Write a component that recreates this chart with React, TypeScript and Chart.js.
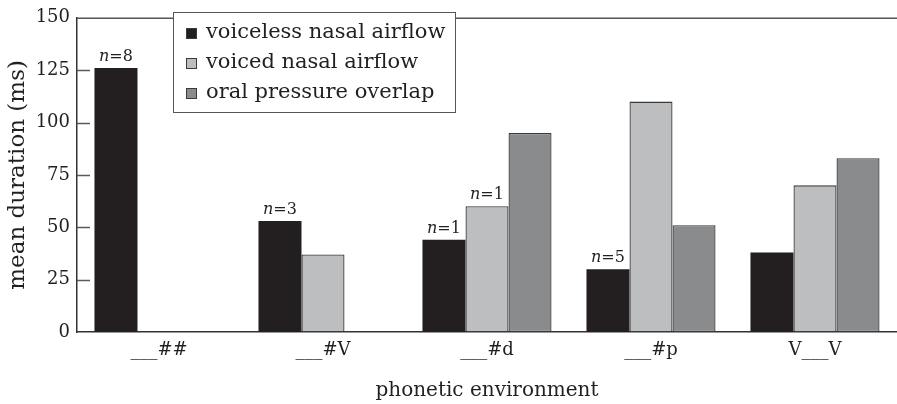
import React, { useEffect, useRef } from 'react';
import { Chart, registerables } from 'chart.js';

Chart.register(...registerables);

const categories = ['___##', '___#V', '___#d', '___#p', 'V___V'];
const seriesNames = ['voiceless nasal airflow', 'voiced nasal airflow', 'oral pressure overlap'];
const voiceless = [126, 53, 44, 30, 38];
const voiced = [null, 37, 60, 110, 70];
const oralOverlap = [null, null, 95, 51, 83];
const seriesColors = ['#231f20', '#bcbec0', '#8a8b8d'];
const seriesBorders = ['#231f20', '#3a3a3a', '#3a3a3a'];
const seriesBorderWidths = [0, 1.3, 1.3];
const yTickValues = [0, 25, 50, 75, 100, 125, 150];
// n counts written above bars: [dataset][category]
const nVoiceless = ['8', '3', '1', '5', null];
const nVoiced = [null, null, '1', null, null];
const nOral = [null, null, null, null, null];

const FONT = '"DejaVu Serif", serif';

const decorPlugin = {
  id: 'decor',
  afterDatasetsDraw(chart: any) {
    const { ctx, chartArea, scales } = chart;
    const y = scales.y;
    ctx.save();
    // inner tick marks
    ctx.strokeStyle = '#5a5a5a';
    ctx.lineWidth = 1.5;
    yTickValues.forEach((v) => {
      if (v === 0 || v === 150) return;
      const py = Math.round(y.getPixelForValue(v)) + 0.5;
      ctx.beginPath();
      ctx.moveTo(chartArea.left, py);
      ctx.lineTo(chartArea.left + 13, py);
      ctx.stroke();
    });
    // top border line
    ctx.strokeStyle = '#555555';
    ctx.lineWidth = 1.5;
    ctx.beginPath();
    ctx.moveTo(chartArea.left, chartArea.top + 0.5);
    ctx.lineTo(chart.width, chartArea.top + 0.5);
    ctx.stroke();

    // n annotations
    const nSets = [nVoiceless, nVoiced, nOral];
    nSets.forEach((arr, d) => {
      const meta = chart.getDatasetMeta(d);
      arr.forEach((lab, i) => {
        if (!lab) return;
        const el = meta.data[i];
        if (!el) return;
        const italic = 'italic 16px ' + FONT;
        const normal = '16px ' + FONT;
        ctx.font = italic;
        const w1 = ctx.measureText('n').width;
        ctx.font = normal;
        const rest = '=' + lab;
        const w2 = ctx.measureText(rest).width;
        const x0 = el.x - (w1 + w2) / 2;
        const by = el.y - 7;
        ctx.fillStyle = '#231f20';
        ctx.textBaseline = 'alphabetic';
        ctx.textAlign = 'left';
        ctx.font = italic;
        ctx.fillText('n', x0, by);
        ctx.font = normal;
        ctx.fillText(rest, x0 + w1, by);
      });
    });

    // legend box
    const lx = 173.5, ly = 12.5, lw = 282, lh = 100;
    ctx.fillStyle = '#ffffff';
    ctx.fillRect(lx, ly, lw, lh);
    ctx.strokeStyle = '#555555';
    ctx.lineWidth = 1;
    ctx.strokeRect(lx, ly, lw, lh);
    chart.data.datasets.forEach((ds: any, i: number) => {
      const cy = 33 + i * 30;
      ctx.fillStyle = ds.backgroundColor;
      ctx.fillRect(186, cy - 5, 11, 11);
      ctx.strokeStyle = '#3a3a3a';
      ctx.lineWidth = 1;
      ctx.strokeRect(186.5, cy - 4.5, 10, 10);
      ctx.fillStyle = '#231f20';
      ctx.font = '21px ' + FONT;
      ctx.textAlign = 'left';
      ctx.textBaseline = 'middle';
      ctx.fillText(ds.label, 206, cy);
    });
    ctx.restore();
  },
};

export default function App() {
  const ref = useRef<HTMLCanvasElement>(null);
  useEffect(() => {
    if (!ref.current) return;
    Chart.defaults.font.family = FONT;
    const values = [voiceless, voiced, oralOverlap];
    const chart = new Chart(ref.current, {
      type: 'bar',
      data: {
        labels: categories,
        datasets: seriesNames.map((name, i) => ({
          label: name,
          data: values[i] as any,
          backgroundColor: seriesColors[i],
          borderColor: seriesBorders[i],
          borderWidth: seriesBorderWidths[i],
          borderSkipped: false,
          categoryPercentage: 0.787,
          barPercentage: 1,
        })),
      },
      options: {
        responsive: false,
        animation: false,
        layout: { padding: { top: 12, right: 0, left: 0, bottom: 0 } },
        plugins: {
          legend: { display: false },
          tooltip: { enabled: false },
        },
        scales: {
          x: {
            grid: { display: false, drawTicks: false },
            border: { display: true, color: '#333333', width: 1.5 },
            ticks: { font: { size: 18, family: FONT }, color: '#231f20', padding: 8 },
            title: {
              display: true,
              text: 'phonetic environment',
              font: { size: 20, family: FONT },
              color: '#231f20',
              padding: { top: 0, bottom: 1 },
            },
            afterFit: (s: any) => {
              s.height = 72;
            },
          },
          y: {
            min: 0,
            max: 150,
            grid: { display: false, drawTicks: false },
            border: { display: true, color: '#333333', width: 1.5 },
            ticks: {
              stepSize: 25,
              font: { size: 18, family: FONT },
              color: '#231f20',
              padding: 7,
            },
            title: {
              display: true,
              text: 'mean duration (ms)',
              font: { size: 23, family: FONT },
              color: '#231f20',
              padding: { top: 4, bottom: 0 },
            },
            afterFit: (s: any) => {
              s.width = 77;
            },
          },
        },
      },
      plugins: [decorPlugin],
    });
    return () => chart.destroy();
  }, []);
  return (
    <div style={{ position: 'fixed', left: 0, top: 0, width: 897, height: 404, background: '#fff' }}>
      <canvas ref={ref} width={897} height={404} style={{ display: 'block' }} />
    </div>
  );
}
